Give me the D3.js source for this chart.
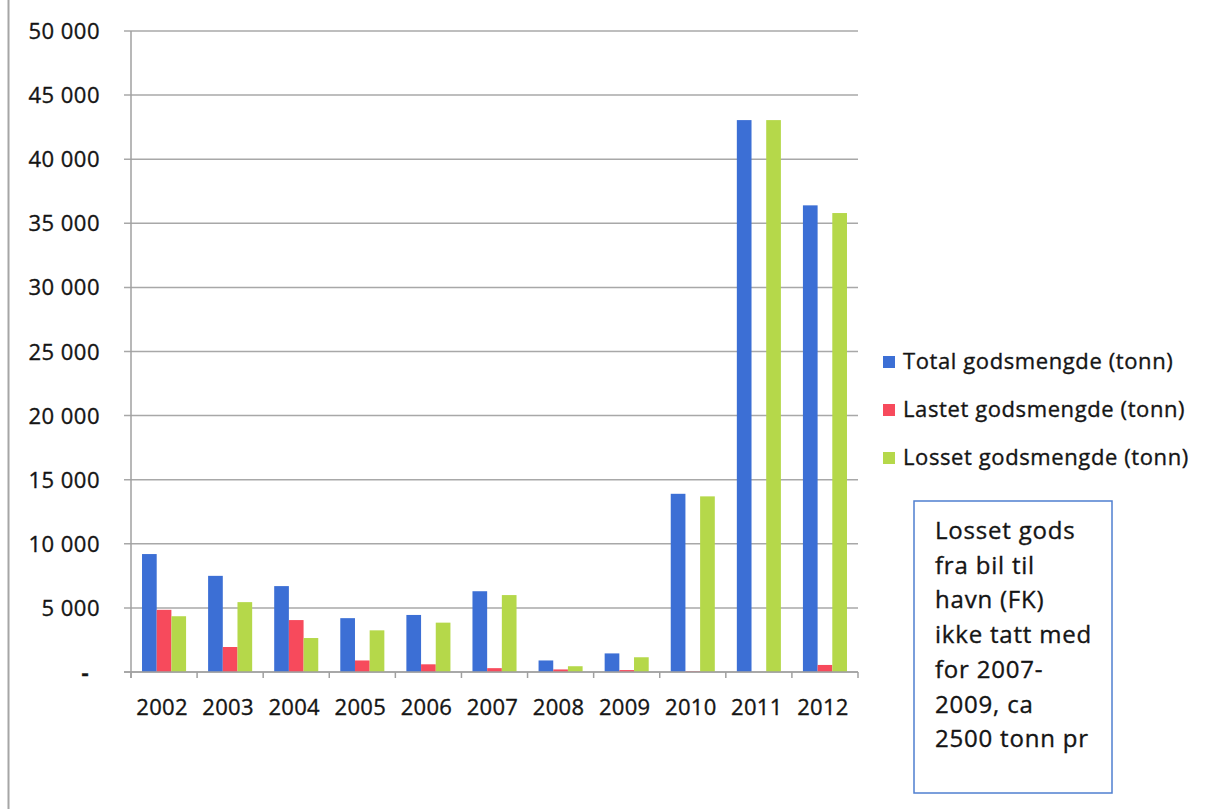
<!DOCTYPE html>
<html>
<head>
<meta charset="utf-8">
<script src="https://cdn.jsdelivr.net/npm/d3@7"></script>
<style>
  html, body { margin: 0; padding: 0; background: #fff; }
  svg { display: block; font-family: "Open Sans", Lato, sans-serif; }
  .lbl { fill: #151515; stroke: #151515; stroke-width: 0.35px; }
</style>
</head>
<body>
<div id="chart"></div>
<script>
// Data (tonn)
const years = ['2002', '2003', '2004', '2005', '2006', '2007', '2008', '2009', '2010', '2011', '2012'];
const totalTonn = [9200, 7500, 6700, 4200, 4450, 6300, 900, 1450, 13900, 43050, 36400];
const lastetTonn = [4850, 1950, 4050, 900, 600, 300, 200, 150, 50, 0, 550];
const lossetTonn = [4350, 5450, 2650, 3250, 3850, 6000, 450, 1150, 13700, 43050, 35800];
const yTicks = [0, 5000, 10000, 15000, 20000, 25000, 30000, 35000, 40000, 45000, 50000];
const seriesNames = ['Total godsmengde (tonn)', 'Lastet godsmengde (tonn)', 'Losset godsmengde (tonn)'];
const seriesColors = ['#3c6fd5', '#f74a5c', '#b5d84a'];
const noteLines = ['Losset gods', 'fra bil til', 'havn (FK)', 'ikke tatt med', 'for 2007-', '2009, ca', '2500 tonn pr'];

const width = 1208, height = 809;
const plot = { left: 131, right: 858, top: 31, bottom: 672 };

const svg = d3.select('#chart').append('svg')
    .attr('width', width)
    .attr('height', height);

// Outer frame line on the left
svg.append('line')
    .attr('x1', 8.5).attr('x2', 8.5)
    .attr('y1', 0).attr('y2', height)
    .attr('stroke', '#a6a6a6')
    .attr('stroke-width', 2);

const x = d3.scaleBand()
    .domain(years)
    .range([plot.left, plot.right]);

const y = d3.scaleLinear()
    .domain([0, 50000])
    .range([plot.bottom, plot.top]);

// Gridlines (extend left as tick marks)
svg.append('g')
    .selectAll('line')
    .data(yTicks)
    .join('line')
    .attr('x1', plot.left - 7)
    .attr('x2', plot.right)
    .attr('y1', d => y(d))
    .attr('y2', d => y(d))
    .attr('stroke', '#a8a8a8')
    .attr('stroke-width', 1.5);

// Y labels ("-" for zero, space as thousands separator)
const fmt = d => d === 0 ? '-' : d3.format(',')(d).replace(/,/g, ' ');
svg.append('g')
    .selectAll('text')
    .data(yTicks)
    .join('text')
    .attr('class', 'lbl')
    .attr('x', d => d === 0 ? 89 : 100)
    .attr('y', d => y(d) + 8)
    .attr('text-anchor', 'end')
    .attr('font-size', 22)
    .attr('letter-spacing', 0.5)
    .attr('font-weight', d => d === 0 ? 700 : 400)
    .text(fmt);

// Bars
const series = [totalTonn, lastetTonn, lossetTonn];
const barW = x.bandwidth() / 4.5;
const inner = d3.scaleBand()
    .domain(d3.range(series.length))
    .range([0.75 * barW, 3.75 * barW]);

series.forEach((vals, si) => {
    svg.append('g')
        .selectAll('rect')
        .data(vals.map((v, i) => ({ year: years[i], v })))
        .join('rect')
        .attr('x', d => x(d.year) + inner(si))
        .attr('y', d => y(d.v))
        .attr('width', inner.bandwidth())
        .attr('height', d => y(0) - y(d.v))
        .attr('fill', seriesColors[si]);
});

// Axes lines
svg.append('line')
    .attr('x1', plot.left).attr('x2', plot.left)
    .attr('y1', plot.top).attr('y2', plot.bottom + 6)
    .attr('stroke', '#a0a0a0').attr('stroke-width', 1.5);
svg.append('line')
    .attr('x1', plot.left - 7).attr('x2', plot.right)
    .attr('y1', plot.bottom).attr('y2', plot.bottom)
    .attr('stroke', '#a0a0a0').attr('stroke-width', 1.5);

// X ticks at band boundaries
const boundaries = years.map(yr => x(yr)).concat([plot.right]);
svg.append('g')
    .selectAll('line')
    .data(boundaries)
    .join('line')
    .attr('x1', d => d).attr('x2', d => d)
    .attr('y1', plot.bottom).attr('y2', plot.bottom + 6)
    .attr('stroke', '#a0a0a0').attr('stroke-width', 1.5);

// X labels
svg.append('g')
    .selectAll('text')
    .data(years)
    .join('text')
    .attr('class', 'lbl')
    .attr('x', d => x(d) + x.bandwidth() / 2 - 2)
    .attr('y', 715)
    .attr('text-anchor', 'middle')
    .attr('font-size', 22)
    .attr('letter-spacing', 0.3)
    .text(d => d);

// Legend
const legend = svg.append('g')
    .selectAll('g')
    .data(seriesNames)
    .join('g')
    .attr('transform', (d, i) => `translate(883, ${362 + i * 48})`);
legend.append('rect')
    .attr('x', 0).attr('y', -6)
    .attr('width', 12).attr('height', 12)
    .attr('fill', (d, i) => seriesColors[i]);
legend.append('text')
    .attr('class', 'lbl')
    .attr('x', 20)
    .attr('y', 7)
    .attr('font-size', 22)
    .attr('letter-spacing', 0.6)
    .text(d => d);

// Note box
svg.append('rect')
    .attr('x', 914).attr('y', 501)
    .attr('width', 198).attr('height', 292)
    .attr('fill', '#fff')
    .attr('stroke', '#4f7fd0')
    .attr('stroke-width', 1.5);
svg.append('g')
    .selectAll('text')
    .data(noteLines)
    .join('text')
    .attr('class', 'lbl')
    .attr('x', 935)
    .attr('y', (d, i) => 539 + i * 34.7)
    .attr('font-size', 24)
    .attr('letter-spacing', 0.8)
    .text(d => d);
</script>
</body>
</html>
